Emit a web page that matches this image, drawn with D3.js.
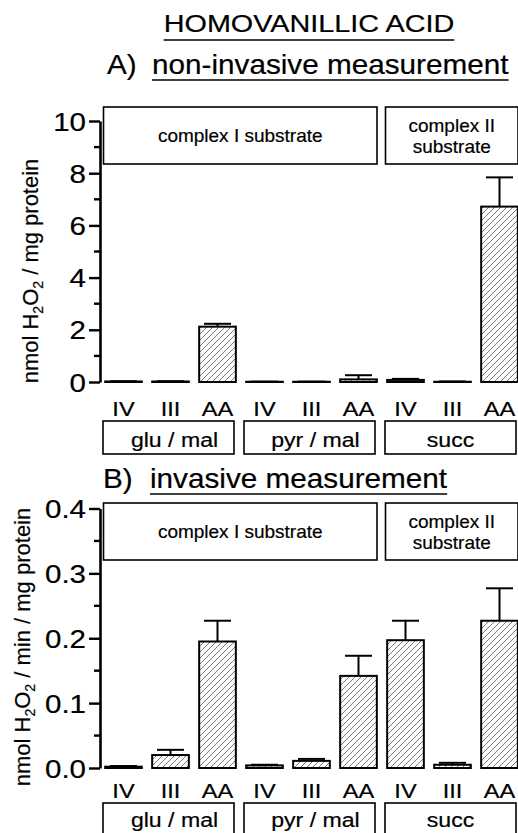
<!DOCTYPE html>
<html>
<head>
<meta charset="utf-8">
<script src="https://cdn.jsdelivr.net/npm/d3@7"></script>
<style>
  body { margin: 0; background: #fff; }
  svg { display: block; font-family: "Liberation Sans", Arial, sans-serif; }
  svg text { fill: #000; stroke: #000; stroke-width: 0.2px; }
</style>
</head>
<body>
<div id="chart-area"></div>
<script>
// Data
const substrates = ["glu / mal", "pyr / mal", "succ"]
const states = ["IV", "III", "AA"]
const complexLabels = [["complex I substrate"], ["complex II", "substrate"]]

// A) non-invasive, nmol H2O2 / mg protein
const nonInvasive = [0.02, 0.02, 2.12, 0.01, 0.01, 0.10, 0.08, 0.01, 6.72]
const nonInvasiveErr = [0.01, 0.01, 0.11, 0.005, 0.005, 0.16, 0.04, 0.01, 1.12]
// B) invasive, nmol H2O2 / min / mg protein
const invasive = [0.002, 0.020, 0.195, 0.004, 0.011, 0.142, 0.197, 0.005, 0.227]
const invasiveErr = [0.001, 0.008, 0.032, 0.001, 0.003, 0.031, 0.030, 0.003, 0.050]

const ticksA = [0, 2, 4, 6, 8, 10], minorA = [1, 3, 5, 7, 9]
const ticksB = [0, 0.1, 0.2, 0.3, 0.4], minorB = [0.05, 0.15, 0.25, 0.35]

const W = 518, H = 833

const svg = d3.select("#chart-area").append("svg")
	.attr("width", W).attr("height", H)

// diagonal hatch
svg.append("defs").append("pattern")
	.attr("id", "hatch")
	.attr("patternUnits", "userSpaceOnUse")
	.attr("width", 6).attr("height", 6)
	.append("path")
	.attr("d", "M-1,1 l2,-2 M0,6 l6,-6 M5,7 l2,-2")
	.attr("stroke", "#555").attr("stroke-width", 0.8)

// text helper, with horizontal stretch like the scanned figure
function label(parent, x, y, s, size, sx = 1, anchor = "middle") {
	const g = parent.append("g").attr("transform", `translate(${x},${y}) scale(${sx},1)`)
	const t = g.append("text").attr("text-anchor", anchor).attr("font-size", size).text(s)
	return { g, t }
}
function underline(lab, dy) {
	const b = lab.t.node().getBBox()
	lab.g.append("line")
		.attr("x1", b.x).attr("x2", b.x + b.width)
		.attr("y1", dy).attr("y2", dy)
		.attr("stroke", "#000").attr("stroke-width", 1.6)
}

// Title
underline(label(svg, 309, 32, "HOMOVANILLIC ACID", 24, 1.2), 8)

// shared x scale: 9 bars
const x = d3.scaleBand()
	.domain(d3.range(9))
	.range([100, 523])
	.paddingInner(0.22)
	.paddingOuter(0.11)
const step = x.step()
const groupStart = i => x.range()[0] + i * 3 * step

const panels = [
	{
		letter: "A)", title: "non-invasive measurement", titleY: 74,
		values: nonInvasive, err: nonInvasiveErr,
		y: d3.scaleLinear().domain([0, 10]).range([382, 121]),
		ticks: ticksA, minor: minorA, fmt: d3.format("d"),
		ylab: ["nmol H", "2", "O", "2", " / mg protein"], ylabX: 38, ylabY: 271,
		boxTop: 107, boxBot: 164, catY: 416, grpTop: 421, grpY: 447
	},
	{
		letter: "B)", title: "invasive measurement", titleY: 488,
		values: invasive, err: invasiveErr,
		y: d3.scaleLinear().domain([0, 0.4]).range([768, 508.5]),
		ticks: ticksB, minor: minorB, fmt: d3.format(".1f"),
		ylab: ["nmol H", "2", "O", "2", " / min / mg protein"], ylabX: 30, ylabY: 647,
		boxTop: 503, boxBot: 560, catY: 798, grpTop: 803, grpY: 827
	}
]

panels.forEach((p) => {
	const g = svg.append("g")
	const y = p.y

	// panel title
	label(g, p.letter === "A)" ? 107 : 103, p.titleY, p.letter, 27, 1.1, "start")
	underline(label(g, p.letter === "A)" ? 152 : 150, p.titleY, p.title, 27, 1.1, "start"), 6)

	// complex boxes
	const spans = [[0, 2], [2, 3]]
	spans.forEach((s, i) => {
		const x0 = groupStart(s[0]) + 3.5, x1 = groupStart(s[1]) - 5
		g.append("rect")
			.attr("x", x0).attr("y", p.boxTop)
			.attr("width", x1 - x0).attr("height", p.boxBot - p.boxTop)
			.attr("fill", "#fff").attr("stroke", "#000").attr("stroke-width", 1.6)
		const lines = complexLabels[i]
		lines.forEach((l, j) => {
			const ly = lines.length === 1 ? p.boxTop + 35 : p.boxTop + 25 + j * 21
			label(g, (x0 + x1) / 2, ly, l, 19)
		})
	})

	// y axis
	const axis = g.append("g")
		.attr("transform", "translate(100,0)")
		.call(d3.axisLeft(y).tickValues(p.ticks).tickFormat(p.fmt).tickSize(11).tickSizeOuter(0))
	axis.select(".domain").attr("stroke-width", 2.6)
	axis.selectAll(".tick line").attr("stroke-width", 2.4)
	axis.selectAll(".tick text")
		.attr("x", 0).attr("dy", "0.36em")
		.attr("transform", "translate(-14,0) scale(1.18,1)")
		.attr("font-size", 25).attr("font-family", null)
	axis.selectAll(".minor").data(p.minor).enter().append("line")
		.attr("class", "minor")
		.attr("x1", -6).attr("x2", 0)
		.attr("y1", d => y(d)).attr("y2", d => y(d))
		.attr("stroke", "#000").attr("stroke-width", 2.4)

	// y label
	const yl = g.append("text")
		.attr("transform", `translate(${p.ylabX},${p.ylabY}) rotate(-90)`)
		.attr("text-anchor", "middle")
		.attr("font-size", 22)
	p.ylab.forEach((s, i) => {
		const sub = (i === 1 || i === 3)
		yl.append("tspan")
			.attr("font-size", sub ? 14 : 22)
			.attr("dy", sub ? 5 : (i === 0 ? 0 : -5))
			.text(s)
	})

	// bars
	g.selectAll(".bar").data(p.values).enter().append("rect")
		.attr("class", "bar")
		.attr("x", (d, i) => x(i))
		.attr("y", d => y(d))
		.attr("width", x.bandwidth())
		.attr("height", d => y(0) - y(d))
		.attr("fill", "url(#hatch)")
		.attr("stroke", "#000").attr("stroke-width", 2)

	// error bars (upper only)
	const cap = 27
	const eb = g.selectAll(".err").data(p.values).enter().append("g").attr("class", "err")
	eb.append("line")
		.attr("x1", (d, i) => x(i) + x.bandwidth() / 2)
		.attr("x2", (d, i) => x(i) + x.bandwidth() / 2)
		.attr("y1", d => y(d))
		.attr("y2", (d, i) => y(d + p.err[i]))
		.attr("stroke", "#000").attr("stroke-width", 2)
	eb.append("line")
		.attr("x1", (d, i) => x(i) + x.bandwidth() / 2 - cap / 2)
		.attr("x2", (d, i) => x(i) + x.bandwidth() / 2 + cap / 2)
		.attr("y1", (d, i) => y(d + p.err[i]))
		.attr("y2", (d, i) => y(d + p.err[i]))
		.attr("stroke", "#000").attr("stroke-width", 2)

	// state labels
	p.values.forEach((d, i) => {
		label(g, x(i) + x.bandwidth() / 2, p.catY, states[i % 3], 20, 1.18)
	})

	// substrate boxes
	substrates.forEach((s, i) => {
		const x0 = groupStart(i) + 3, x1 = groupStart(i + 1) - 7
		g.append("rect")
			.attr("x", x0).attr("y", p.grpTop)
			.attr("width", x1 - x0).attr("height", 33)
			.attr("fill", "#fff").attr("stroke", "#000").attr("stroke-width", 1.6)
		label(g, (x0 + x1) / 2 + (i < 2 ? 6 : 0), p.grpY, s, 21, 1.1)
	})
})
</script>
</body>
</html>
